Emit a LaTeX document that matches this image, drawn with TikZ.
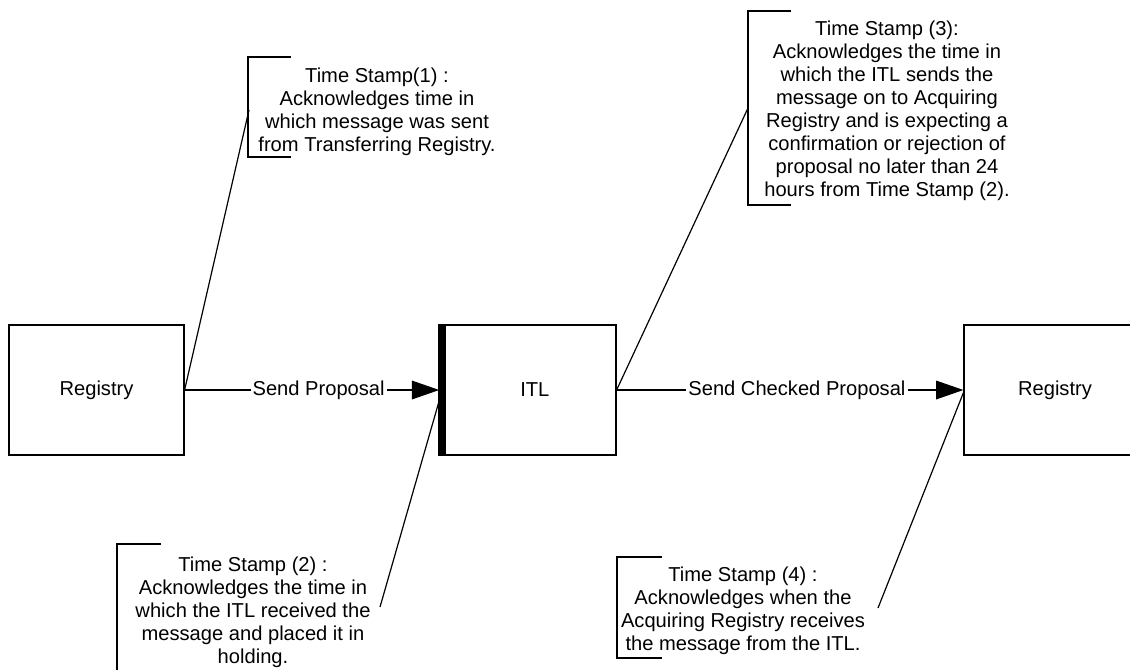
\documentclass[tikz,border=0pt]{standalone}
\usepackage{fontspec}
\setmainfont{Liberation Sans}
\usetikzlibrary{arrows.meta}
\begin{document}
\begin{tikzpicture}[x=0.75pt,y=-0.75pt,
  line width=0.9pt,
  every node/.style={font=\fontsize{15.1pt}{17.3pt}\selectfont},
  procbox/.style={draw, line width=0.9pt, inner sep=0pt,
    minimum height=97.5pt},
  note/.style={align=center, inner sep=0pt},
  flow/.style={-{Triangle[length=20.5pt,width=14pt]}},
  flowlabel/.style={fill=white, inner sep=1.5pt},
  bracket/.style={line width=0.9pt}]
\useasboundingbox (0,0) rectangle (1130,669);
\clip (0,0) rectangle (1130,669);

% process boxes
\node[procbox, minimum width=131.25pt] (reg1) at (96.5,390) {Registry};
\node[procbox, minimum width=129.75pt] (itl) at (529.5,390) {\hspace*{8pt}ITL};
\node[procbox, minimum width=136.5pt] (reg2) at (1055,390) {Registry};
\draw[line width=6pt] (itl.north west) -- (itl.south west);

% message flows
\draw[flow, shorten >=2.4pt] (reg1.east) -- node[flowlabel, pos=0.52] {Send Proposal} (itl.west);
\draw[flow] (itl.east) -- node[flowlabel, pos=0.52] {Send Checked Proposal} (reg2.west);

% time stamp annotations
\draw[bracket] (291,57) -- (248,57) -- (248,157) -- (291,157);
\node[note] (ts1) at (377,112) {Time Stamp(1) :\\Acknowledges time in\\which message was sent\\from Transferring Registry.};
\coordinate (c1) at (249,110);
\draw (reg1.east) -- (c1);

\draw[bracket] (791,11) -- (748,11) -- (748,205) -- (791,205);
\node[note] (ts3) at (887,111) {Time Stamp (3):\\Acknowledges the time in\\which the ITL sends the\\message on to Acquiring\\Registry and is expecting a\\confirmation or rejection of\\proposal no later than 24\\hours from Time Stamp (2).};
\coordinate (c3) at (748,108);
\draw (itl.east) -- (c3);

\draw[bracket] (161,544) -- (117,544) -- (117,690);
\node[note] (ts2) at (253,612) {Time Stamp (2) :\\Acknowledges the time in\\which the ITL received the\\message and placed it in\\holding.};
\coordinate (c2) at (380,607);
\draw ([xshift=-2.4pt,yshift=-8pt]itl.west) -- (c2);

\draw[bracket] (662,557) -- (617,557) -- (617,658) -- (662,658);
\node[note] (ts4) at (743,611) {Time Stamp (4) :\\Acknowledges when the\\Acquiring Registry receives\\the message from the ITL.};
\coordinate (c4) at (878,608);
\draw ([yshift=-2pt]reg2.west) -- (c4);
\end{tikzpicture}
\end{document}
